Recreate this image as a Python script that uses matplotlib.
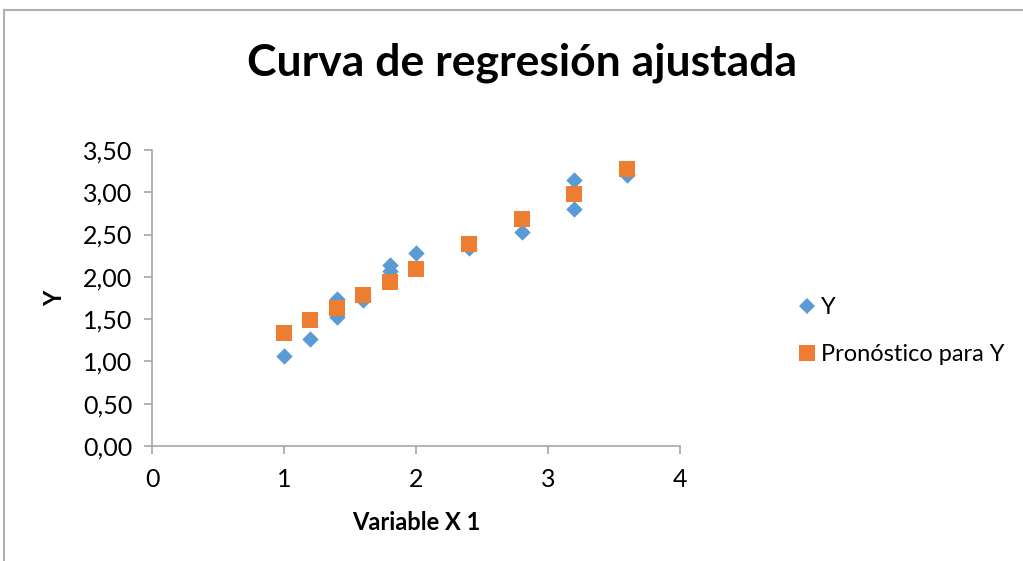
import matplotlib
matplotlib.use("Agg")
import matplotlib.pyplot as plt
from matplotlib.lines import Line2D
from matplotlib.ticker import FuncFormatter

# datos
x_vals = [1.0, 1.2, 1.4, 1.4, 1.6, 1.8, 1.8, 2.0, 2.4, 2.8, 3.2, 3.2, 3.6]
y_vals = [1.07, 1.27, 1.53, 1.74, 1.73, 2.07, 2.14, 2.28, 2.34, 2.53, 2.80, 3.14, 3.20]
y_pred = [1.34, 1.49, 1.635, 1.635, 1.79, 1.935, 1.935, 2.09, 2.385, 2.68, 2.98, 2.98, 3.28]

x_ticks = [0, 1, 2, 3, 4]
y_ticks = [0, 0.5, 1.0, 1.5, 2.0, 2.5, 3.0, 3.5]

plt.rcParams['font.family'] = ['Lato', 'DejaVu Sans']

W, H = 1023, 561
fig = plt.figure(figsize=(W / 100, H / 100), dpi=100)
ax = fig.add_axes([152 / W, 1 - 446 / H, (680 - 152) / W, (446 - 150) / H])

blue = '#5B9BD5'
orange = '#ED7D31'
gris = '#a6a6a6'

ax.scatter(x_vals, y_vals, marker='D', s=70, color=blue, linewidths=0, zorder=3)
ax.scatter(x_vals, y_pred, marker='s', s=140, color=orange, linewidths=0, zorder=4)

ax.set_xlim(0, 4)
ax.set_ylim(0, 3.5)
ax.set_xticks(x_ticks)
ax.set_yticks(y_ticks)
ax.yaxis.set_major_formatter(FuncFormatter(lambda v, p: f"{v:.2f}".replace('.', ',')))

for s in ['top', 'right']:
    ax.spines[s].set_visible(False)
for s in ['left', 'bottom']:
    ax.spines[s].set_color(gris)
    ax.spines[s].set_linewidth(1.2)
ax.tick_params(axis='both', colors=gris, labelcolor='black', labelsize=18, length=6, width=1.2)
ax.tick_params(axis='x', pad=10)
ax.tick_params(axis='y', pad=8)

ax.set_xlabel("Variable X 1", fontsize=17, fontweight='bold', labelpad=14)
ax.set_ylabel("Y", fontsize=17, fontweight='bold', labelpad=12)

fig.text(522 / W, 1 - 63 / H, "Curva de regresión ajustada", fontsize=32, fontweight='bold',
         ha='center', va='center')

handles = [
    Line2D([], [], marker='D', linestyle='', color=blue, markersize=8, markeredgewidth=0),
    Line2D([], [], marker='s', linestyle='', color=orange, markersize=11, markeredgewidth=0),
]
fig.legend(handles, ["Y", "Pronóstico para Y"], loc='center left',
           bbox_to_anchor=(774 / W, 1 - 331 / H), frameon=False, fontsize=17,
           handletextpad=0.1, labelspacing=1.1, handlelength=1.0)

# borde del area del grafico
fig.add_artist(Line2D([4 / W, 4 / W], [0, 1 - 10 / H], color='#b0b0b0', linewidth=1.5))
fig.add_artist(Line2D([4 / W, 1], [1 - 10 / H, 1 - 10 / H], color='#b0b0b0', linewidth=1.5))

fig.savefig("out.png", dpi=100)
